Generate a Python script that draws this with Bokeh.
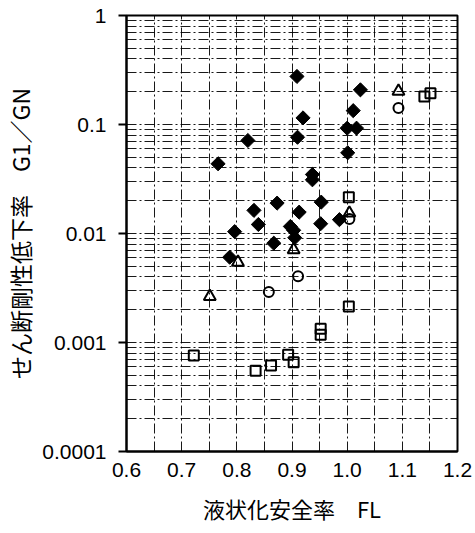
import numpy as np
from bokeh.plotting import figure
from bokeh.models import FixedTicker, Range1d
from bokeh.embed import file_html
from bokeh.resources import INLINE

# ---- data ----
dia_x = [0.909, 1.024, 1.011, 0.920, 1.000, 1.017, 0.910, 0.820, 1.001, 0.766,
         0.937, 0.937, 0.953, 0.873, 0.831, 0.913, 0.986, 0.839, 0.952, 0.897,
         0.903, 0.905, 0.796, 0.867, 0.787]
dia_y = [0.276, 0.208, 0.134, 0.115, 0.0925, 0.0925, 0.0764, 0.0713, 0.055, 0.0436,
         0.0348, 0.0311, 0.0194, 0.019, 0.0163, 0.0157, 0.0134, 0.0121, 0.0123, 0.0116,
         0.0107, 0.00914, 0.0104, 0.00815, 0.00606]

tri_x = [1.093, 1.004, 0.903, 0.802, 0.751]
tri_y = [0.202, 0.0154, 0.00709, 0.00545, 0.00264]

cir_x = [1.093, 1.004, 0.911, 0.858]
cir_y = [0.142, 0.0136, 0.00406, 0.0029]

sq_x = [1.140, 1.151, 1.003, 1.003, 0.952, 0.952, 0.722, 0.834, 0.862, 0.893, 0.903]
sq_y = [0.181, 0.194, 0.0215, 0.00214, 0.00134, 0.00118, 0.00076, 0.00055, 0.000615, 0.00077, 0.00066]

x_ticks = [0.6, 0.7, 0.8, 0.9, 1.0, 1.1, 1.2]
x_tick_labels = ["0.6", "0.7", "0.8", "0.9", "1.0", "1.1", "1.2"]
y_ticks = [0.0001, 0.001, 0.01, 0.1, 1]
y_tick_labels = ["0.0001", "0.001", "0.01", "0.1", "1"]

x_label = "液状化安全率　FL"
y_label = "せん断剛性低下率　G1／GN"

# ---- figure ----
p = figure(width=475, height=533, output_backend="svg", toolbar_location=None,
           y_axis_type="log",
           x_range=Range1d(0.6, 1.2), y_range=Range1d(0.0001, 1),
           min_border_left=126, min_border_right=18,
           min_border_top=15, min_border_bottom=82)
p.background_fill_color = "white"
p.border_fill_color = "white"
p.outline_line_color = "black"
p.outline_line_width = 2

# grid
xg = [round(0.6 + 0.05 * i, 2) for i in range(13)]
yg = []
for d in range(-4, 0):
    for k in range(1, 10):
        yg.append(k * 10.0 ** d)
yg.append(1.0)
p.xgrid.ticker = FixedTicker(ticks=xg)
p.ygrid.ticker = FixedTicker(ticks=yg)
for g in (p.xgrid, p.ygrid):
    g.grid_line_color = "black"
    g.grid_line_width = 1
    g.grid_line_dash = "10 3 2 3"
    g.grid_line_alpha = 0.9

# axes
p.xaxis.ticker = FixedTicker(ticks=x_ticks)
p.xaxis.major_label_overrides = {t: l for t, l in zip(x_ticks, x_tick_labels)}
p.yaxis.ticker = FixedTicker(ticks=y_ticks)
p.yaxis.major_label_overrides = {t: l for t, l in zip(y_ticks, y_tick_labels)}

for ax in (p.xaxis[0], p.yaxis[0]):
    ax.axis_line_color = "black"
    ax.axis_line_width = 2
    ax.minor_tick_line_color = None
    ax.major_label_text_font = "Liberation Sans"
    ax.major_label_text_font_size = "21px"
    ax.major_label_text_color = "black"
    ax.axis_label_text_font = "Noto Sans CJK JP"
    ax.axis_label_text_font_size = "22px"
    ax.axis_label_text_font_style = "normal"
    ax.axis_label_text_color = "black"

p.xaxis.major_tick_line_color = None
p.xaxis.major_tick_out = 0
p.xaxis.major_tick_in = 0
p.xaxis.major_label_standoff = 11
p.xaxis.axis_label = x_label
p.xaxis.axis_label_standoff = 12

p.yaxis.major_tick_line_color = "black"
p.yaxis.major_tick_line_width = 2
p.yaxis.major_tick_out = 8
p.yaxis.major_tick_in = 0
p.yaxis.major_label_standoff = 12
p.yaxis.axis_label = y_label
p.yaxis.axis_label_standoff = 2
p.yaxis.axis_label_text_font_size = "23px"

# markers
p.scatter(dia_x, dia_y, marker="square", size=10, angle=np.pi / 4,
          fill_color="black", line_color="black", line_width=1)
p.scatter(tri_x, tri_y, marker="triangle", size=12,
          fill_color="white", fill_alpha=0, line_color="black", line_width=2)
p.scatter(cir_x, cir_y, marker="circle", size=10,
          fill_color="white", fill_alpha=0, line_color="black", line_width=2)
p.scatter(sq_x, sq_y, marker="square", size=10,
          fill_color="white", fill_alpha=0, line_color="black", line_width=2)

open("out.html", "w").write(file_html(p, INLINE))
